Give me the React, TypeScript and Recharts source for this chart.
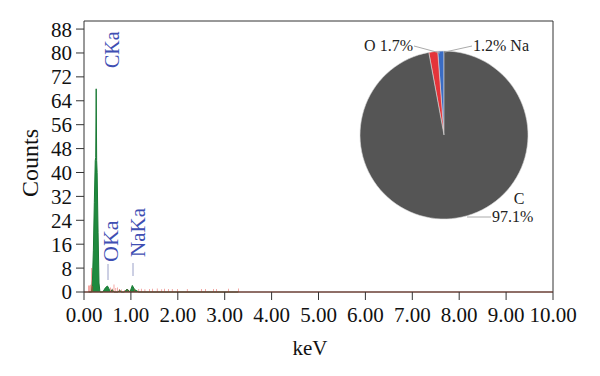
import React from 'react';
import {
  ComposedChart,
  Area,
  Bar,
  XAxis,
  YAxis,
  ReferenceLine,
  PieChart,
  Pie,
  Cell,
} from 'recharts';

// spectrum channels (keV) with green (main) and red (background) counts
const keV = [0.1, 0.12, 0.14, 0.16, 0.18, 0.2, 0.22, 0.24, 0.25, 0.26, 0.27, 0.28, 0.3, 0.32, 0.34, 0.4, 0.46, 0.5, 0.53, 0.56, 0.6, 0.64, 0.68, 0.72, 0.76, 0.8, 0.86, 0.92, 0.98, 1.03, 1.08, 1.17, 1.22, 1.3, 1.4, 1.46, 1.56, 1.66, 1.72, 1.8, 1.88, 2.0, 2.2, 2.5, 2.59, 2.76, 2.82, 3.08, 3.29];
const greenCounts = [0, 0, 0, 0, 4, 14, 30, 44, 45, 68, 44, 40, 20, 3, 0, 0, 1.5, 2, 1.2, 0, 0.8, 0, 0, 0, 0.6, 0, 0, 1, 0, 2.2, 0.8, 0, 0, 0, 0, 0, 0, 0, 0, 0, 0, 0, 0, 0, 0, 0, 0, 0, 0];
const redCounts = [2.2, 2.2, 2.4, 8, 2, 0, 0, 0, 0, 0, 0, 0, 0, 0, 0, 0, 0, 0, 0, 1.5, 1.2, 2.5, 1.3, 1.5, 1, 0.8, 0.7, 0.9, 0.6, 0, 1, 1, 1.1, 0.9, 1, 1.1, 1.2, 0.9, 1.1, 1, 1, 1, 1, 1, 1, 1, 1, 1.1, 1.2];

const xTicks = [0, 1, 2, 3, 4, 5, 6, 7, 8, 9, 10];
const yTicks = [0, 8, 16, 24, 32, 40, 48, 56, 64, 72, 80, 88];
const yMax = 90.7;

// composition pie
const elements = ['Na', 'O', 'C'];
const percents = [1.2, 1.7, 97.1];
const pieColors = ['#3a6cc4', '#e4343a', '#555555'];

const spectrum = keV.map((k, i) => ({ keV: k, green: greenCounts[i], red: redCounts[i] }));
const pieData = elements.map((name, i) => ({ name, value: percents[i] }));

const FONT = '"Liberation Serif", "DejaVu Serif", serif';
const BLUE = '#3f4fb3';

const PieLabel = (props: any) => {
  const { cx, cy, outerRadius, index } = props;
  const name = elements[index];
  const pct = `${percents[index].toFixed(1)}%`;
  const top = cy - outerRadius;
  if (name === 'O') {
    return (
      <g>
        <line x1={cx - 30} y1={top - 5} x2={cx - 4} y2={top + 2} stroke="#aaa" strokeWidth={1} />
        <text x={cx - 31} y={top} textAnchor="end" fontSize={16} fontFamily={FONT} fill="#222">{`O ${pct}`}</text>
      </g>
    );
  }
  if (name === 'Na') {
    return (
      <g>
        <line x1={cx + 28} y1={top - 5} x2={cx + 1} y2={top + 1} stroke="#aaa" strokeWidth={1} />
        <text x={cx + 29} y={top} textAnchor="start" fontSize={16} fontFamily={FONT} fill="#222">{`${pct} Na`}</text>
      </g>
    );
  }
  return (
    <g>
      <line x1={cx + 23} y1={cy + 82} x2={cx + 47} y2={cy + 82} stroke="#aaa" strokeWidth={1} />
      <text x={cx + 75} y={cy + 69} textAnchor="middle" fontSize={16} fontFamily={FONT} fill="#222">{name}</text>
      <text x={cx + 48} y={cy + 87} textAnchor="start" fontSize={16} fontFamily={FONT} fill="#222">{pct}</text>
    </g>
  );
};

const App = () => {
  return (
    <div style={{ position: 'absolute', left: 0, top: 0, width: 600, height: 376, background: '#fff' }}>
      <ComposedChart
        width={600}
        height={376}
        data={spectrum}
        margin={{ top: 21, right: 47, bottom: 0, left: 24 }}
        barGap={0}
      >
        <XAxis
          dataKey="keV"
          type="number"
          domain={[0, 10]}
          ticks={xTicks}
          tickFormatter={(v: number) => v.toFixed(2)}
          height={84}
          stroke="#333"
          tickSize={8}
          tick={{ fill: '#111', fontSize: 21, fontFamily: FONT }}
          tickMargin={7}
          interval={0}
        />
        <YAxis
          type="number"
          domain={[0, yMax]}
          ticks={yTicks}
          width={60}
          stroke="#333"
          tickSize={8}
          tickMargin={4}
          tick={{ fill: '#111', fontSize: 21, fontFamily: FONT }}
          interval={0}
        />
        <ReferenceLine y={yMax} stroke="#333" strokeWidth={1} />
        <ReferenceLine x={10} stroke="#333" strokeWidth={1} />
        <Bar dataKey="red" fill="#e4352b" barSize={2} isAnimationActive={false} />
        <Area
          dataKey="green"
          type="linear"
          stroke="#1a7a35"
          strokeWidth={1}
          fill="#1f8a3e"
          fillOpacity={1}
          dot={false}
          activeDot={false}
          isAnimationActive={false}
        />
        <ReferenceLine y={0} stroke="#d9573a" strokeWidth={1} segment={[{ x: 0.1, y: 0 }, { x: 5.1, y: 0 }]} />
        <text transform="translate(38,163) rotate(-90)" textAnchor="middle" fontSize={24} fontFamily={FONT} fill="#111">Counts</text>
        <text x={310} y={355} textAnchor="middle" fontSize={21} fontFamily={FONT} fill="#111">keV</text>
        <text transform="translate(119,68) rotate(-90)" fontSize={20} fontFamily={FONT} fill={BLUE}>CKa</text>
        <text transform="translate(118,262) rotate(-90)" fontSize={22} fontFamily={FONT} fill={BLUE}>OKa</text>
        <text transform="translate(145,257) rotate(-90)" fontSize={21} fontFamily={FONT} fill={BLUE}>NaKa</text>
        <line x1={108} y1={264} x2={108} y2={280} stroke="#9aa0c8" strokeWidth={1} />
        <line x1={133} y1={263} x2={133} y2={276} stroke="#9aa0c8" strokeWidth={1} />
      </ComposedChart>
      <div style={{ position: 'absolute', left: 340, top: 25, width: 220, height: 215 }}>
        <PieChart width={220} height={215} margin={{ top: 0, right: 0, bottom: 0, left: 0 }}>
          <Pie
            data={pieData}
            dataKey="value"
            nameKey="name"
            cx={104}
            cy={110}
            outerRadius={84}
            startAngle={90}
            endAngle={450}
            stroke="#d8d8d8"
            strokeWidth={0.6}
            label={PieLabel}
            labelLine={false}
            isAnimationActive={false}
          >
            {pieData.map((d, i) => (
              <Cell key={d.name} fill={pieColors[i]} />
            ))}
          </Pie>
        </PieChart>
      </div>
    </div>
  );
};

export default App;
